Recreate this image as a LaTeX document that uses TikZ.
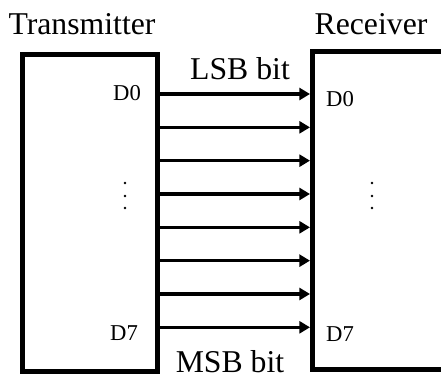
\documentclass[tikz,border=0pt]{standalone}
\usepackage{fontspec}
\setmainfont{Liberation Serif}
\usetikzlibrary{arrows.meta}

\begin{document}
\begin{tikzpicture}[
    x=0.75pt, y=-0.75pt,
    unit/.style={draw=black, line width=3.75pt, inner sep=0pt},
    bus/.style={-{Triangle[length=8pt,width=9pt]}, line width=2.4pt, draw=black},
    title/.style={font=\fontsize{23.8}{28}\selectfont, anchor=base, inner sep=0pt},
    pin/.style={font=\fontsize{17}{20}\selectfont, anchor=base, inner sep=0pt},
    dot/.style={fill=black, circle, inner sep=0pt, minimum size=2.2pt}
]
    \useasboundingbox (0,0) rectangle (441,374);

    % Units
    \node[unit, minimum width=101.25pt, minimum height=237.75pt, anchor=north west] (tx) at (20,52) {};
    \coordinate (rxtop) at (312.5,52);
    \coordinate (rxbot) at (312.5,369);
    \draw[unit] (441,52) -- (rxtop) -- (rxbot) -- (441,369);

    % Titles
    \node[title] (txname) at (82,35) {Transmitter};
    \node[title] (rxname) at (371,35) {Receiver};
    \node[title] (lsb) at (240,80) {LSB bit};
    \node[title] (msb) at (230,372) {MSB bit};

    % Data lines
    \foreach \i in {0,...,7} {
        \coordinate (rx\i) at (310, 94+33.33*\i);
        \draw[bus] (tx.east |- rx\i) -- (rx\i);
    }

    % Pin labels
    \node[pin] (txd0) at (127,100) {D0};
    \node[pin] (rxd0) at (340,107) {D0};
    \node[pin] (txd7) at (124,340) {D7};
    \node[pin] (rxd7) at (340,341) {D7};
    \foreach \y in {183,196,208} {
        \node[dot] at (125,\y) {};
        \node[dot] at (372,\y) {};
    }

\end{tikzpicture}
\end{document}
